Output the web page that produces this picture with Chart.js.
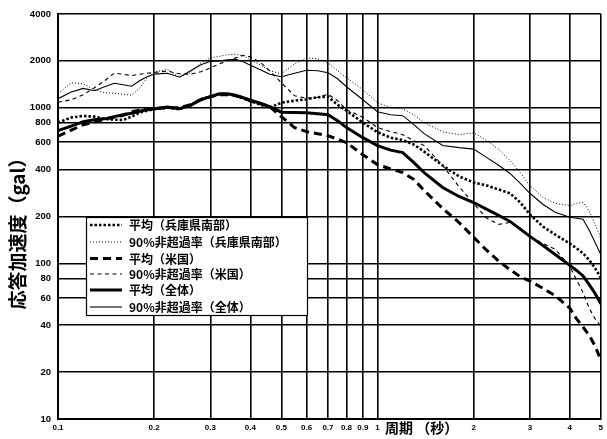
<!DOCTYPE html>
<html>
<head>
<meta charset="utf-8">
<script src="https://cdn.jsdelivr.net/npm/chart.js@4.4.1/dist/chart.umd.min.js"></script>
<style>
  html, body { margin: 0; padding: 0; background: #fff; }
  #wrap { width: 607px; height: 439px; position: relative; }
</style>
</head>
<body>
<div id="wrap"><canvas id="c" width="607" height="439"></canvas></div>
<script>
// Period (s)
const periods = [0.1, 0.11, 0.12, 0.13, 0.14, 0.15, 0.16, 0.17, 0.18, 0.19, 0.2, 0.22, 0.24, 0.26, 0.28, 0.3, 0.32, 0.34, 0.36, 0.38, 0.4, 0.43, 0.46, 0.5, 0.55, 0.6, 0.65, 0.7, 0.75, 0.8, 0.9, 1.0, 1.1, 1.2, 1.3, 1.4, 1.6, 1.8, 2.0, 2.2, 2.4, 2.6, 2.8, 3.0, 3.3, 3.6, 4.0, 4.2, 4.4, 4.6, 4.8, 5.0];

// Response acceleration (gal)
const hyogoMean = [802, 865, 886, 876, 848, 838, 834, 876, 929, 957, 978, 1000, 978, 1045, 1134, 1185, 1220, 1220, 1194, 1150, 1101, 1045, 1000, 1077, 1109, 1134, 1167, 1177, 1045, 957, 802, 696, 642, 619, 579, 522, 425, 362, 331, 316, 298, 282, 246, 206, 172, 153, 134, 125, 116, 105, 93, 81];
const hyogo90 = [1229, 1447, 1425, 1305, 1251, 1238, 1220, 1203, 1334, 1557, 1690, 1765, 1580, 1677, 1943, 2090, 2140, 2190, 2205, 2154, 2030, 1887, 1727, 1651, 1914, 2090, 2061, 1943, 1727, 1557, 1305, 1077, 1000, 985, 902, 802, 700, 671, 691, 614, 538, 457, 383, 316, 265, 243, 235, 243, 247, 216, 178, 145];
const usMean = [656, 717, 778, 808, 843, 869, 895, 943, 964, 978, 985, 1000, 1000, 1045, 1125, 1177, 1211, 1211, 1194, 1159, 1109, 1061, 1015, 876, 745, 702, 681, 661, 628, 596, 499, 431, 404, 383, 346, 294, 225, 183, 147, 121, 103, 91, 82, 77, 69, 62, 51.5, 44, 39, 34.5, 29.4, 24];
const us90 = [1084, 1125, 1211, 1344, 1490, 1669, 1640, 1609, 1640, 1664, 1684, 1719, 1651, 1640, 1701, 1803, 1914, 2001, 2090, 2170, 2121, 1957, 1727, 1446, 1194, 1150, 1167, 1220, 1109, 971, 869, 745, 702, 671, 614, 571, 425, 311, 242, 195, 178, 183, 168, 149, 134, 123, 96, 78, 65, 51.5, 44, 39.5];
const allMean = [712, 761, 814, 838, 848, 876, 902, 922, 950, 971, 985, 1010, 985, 1037, 1125, 1177, 1229, 1229, 1202, 1159, 1117, 1069, 1015, 936, 933, 929, 915, 902, 826, 745, 642, 571, 534, 515, 444, 383, 307, 269, 246, 222, 203, 186, 166, 149, 130, 114, 97, 90, 83, 73, 64, 55];
const all90 = [1142, 1260, 1330, 1285, 1364, 1436, 1404, 1374, 1490, 1580, 1644, 1664, 1570, 1727, 1887, 1986, 2000, 2030, 2046, 1972, 1872, 1752, 1640, 1580, 1664, 1739, 1727, 1677, 1534, 1364, 1125, 943, 902, 889, 778, 681, 571, 554, 542, 478, 425, 378, 326, 282, 239, 213, 198, 195, 192, 163, 136, 114];

const seriesLabels = ['平均（兵庫県南部）', '90%非超過率（兵庫県南部）', '平均（米国）', '90%非超過率（米国）', '平均（全体）', '90%非超過率（全体）'];

// Axis tick values
const xTicks = [0.1, 0.2, 0.3, 0.4, 0.5, 0.6, 0.7, 0.8, 0.9, 1, 2, 3, 4, 5];
const yTicks = [10, 20, 40, 60, 80, 100, 200, 400, 600, 800, 1000, 2000, 4000];

const xTitle = '周期 （秒）';
const yTitle = '応答加速度（gal）';

const toPoints = arr => periods.map((p, i) => ({ x: p, y: arr[i] }));

const lineStyles = [
  { borderWidth: 2.6, borderDash: [2.5, 2] },
  { borderWidth: 1, borderDash: [1, 2] },
  { borderWidth: 3, borderDash: [8, 5] },
  { borderWidth: 1.1, borderDash: [4, 3.5] },
  { borderWidth: 3, borderDash: [] },
  { borderWidth: 1.1, borderDash: [] }
];

const seriesData = [hyogoMean, hyogo90, usMean, us90, allMean, all90];

const datasets = seriesData.map((arr, i) => ({
  label: seriesLabels[i],
  data: toPoints(arr),
  borderColor: '#000',
  backgroundColor: '#000',
  borderWidth: lineStyles[i].borderWidth,
  borderDash: lineStyles[i].borderDash,
  pointRadius: 0,
  tension: 0,
  fill: false
}));

// Boxed legend inside the plot, plus axis titles
const annotate = {
  id: 'annotate',
  afterDatasetsDraw(chart) {
    const ctx = chart.ctx;
    ctx.save();
    // legend box
    const bx = 86, by = 217, bw = 221, bh = 98;
    ctx.fillStyle = '#fff';
    ctx.fillRect(bx, by, bw, bh);
    ctx.strokeStyle = '#000';
    ctx.lineWidth = 1.2;
    ctx.setLineDash([]);
    ctx.strokeRect(bx + 0.5, by + 0.5, bw, bh);
    const rowY = [225, 242, 258.5, 274, 290, 307];
    chart.data.datasets.forEach((ds, i) => {
      const y = rowY[i];
      ctx.beginPath();
      ctx.lineWidth = ds.borderWidth;
      ctx.setLineDash(ds.borderDash || []);
      ctx.strokeStyle = '#000';
      ctx.moveTo(90, y);
      ctx.lineTo(122, y);
      ctx.stroke();
      ctx.setLineDash([]);
      ctx.fillStyle = '#000';
      ctx.font = 'bold 12px "Noto Sans CJK JP"';
      ctx.textAlign = 'left';
      ctx.textBaseline = 'middle';
      ctx.fillText(ds.label, 129, y + 0.5);
    });
    ctx.restore();
  },
  afterDraw(chart) {
    const ctx = chart.ctx;
    ctx.save();
    ctx.fillStyle = '#000';
    // x title, right of the "1" tick
    ctx.font = 'bold 14px "Noto Sans CJK JP"';
    ctx.textAlign = 'left';
    ctx.textBaseline = 'middle';
    ctx.fillText(xTitle, 385, 428);
    // y title, rotated
    ctx.translate(18, 229);
    ctx.rotate(-Math.PI / 2);
    ctx.font = 'bold 19px "Noto Sans CJK JP"';
    ctx.textAlign = 'center';
    ctx.fillText(yTitle, 0, 0);
    ctx.restore();
  }
};

new Chart(document.getElementById('c'), {
  type: 'line',
  data: { datasets },
  options: {
    responsive: false,
    animation: false,
    devicePixelRatio: 1,
    layout: { padding: { left: 0, right: 2, top: 14, bottom: 0 } },
    plugins: { legend: { display: false }, tooltip: { enabled: false } },
    scales: {
      x: {
        type: 'logarithmic',
        min: 0.1,
        max: 5,
        afterBuildTicks: s => { s.ticks = xTicks.map(v => ({ value: v })); },
        afterFit: s => { s.height = 20; },
        ticks: {
          autoSkip: false,
          maxRotation: 0,
          padding: 4,
          color: '#000',
          font: { family: 'Liberation Sans', size: 8, weight: 'bold' },
          callback: v => String(v)
        },
        grid: { color: '#000', lineWidth: 1.6, drawTicks: false },
        border: { display: true, color: '#000', width: 2 }
      },
      y: {
        type: 'logarithmic',
        min: 10,
        max: 4000,
        afterBuildTicks: s => { s.ticks = yTicks.map(v => ({ value: v })); },
        afterFit: s => { s.width = 58; },
        ticks: {
          autoSkip: false,
          padding: 7,
          color: '#000',
          font: { family: 'Liberation Sans', size: 9.5, weight: 'bold' },
          callback: v => String(v)
        },
        grid: { color: '#000', lineWidth: 1.6, drawTicks: false },
        border: { display: true, color: '#000', width: 2 }
      }
    }
  },
  plugins: [annotate]
});
</script>
</body>
</html>
